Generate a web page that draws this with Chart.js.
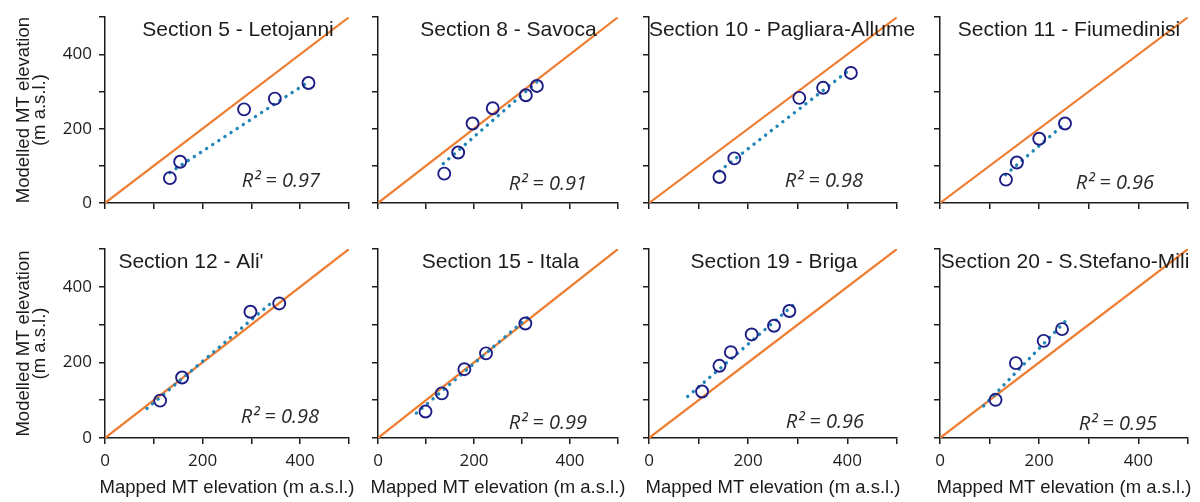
<!DOCTYPE html>
<html>
<head>
<meta charset="utf-8">
<script src="https://cdn.jsdelivr.net/npm/chart.js@4.4.1/dist/chart.umd.min.js"></script>
<style>
  html, body { margin: 0; padding: 0; background: #fff; }
  #wrap { position: relative; width: 1200px; height: 502px; overflow: hidden; }
  #wrap canvas { position: absolute; left: 0; top: 0; }
</style>
</head>
<body>
<div id="wrap"></div>
<script>
// ---- data ---------------------------------------------------------------
const sectionNames = [
  'Section 5 - Letojanni', 'Section 8 - Savoca', 'Section 10 - Pagliara-Allume', 'Section 11 - Fiumedinisi',
  "Section 12 - Ali'", 'Section 15 - Itala', 'Section 19 - Briga', 'Section 20 - S.Stefano-Mili'
];
const rSquared = ['0.97', '0.91', '0.98', '0.96', '0.98', '0.99', '0.96', '0.95'];

// mapped (x) and modelled (y) MT elevations, m a.s.l.
const mapped5  = [133, 154, 285, 348, 417];
const modelled5 = [67, 111, 252, 281, 323];
const mapped8  = [138, 167, 197, 239, 308, 331];
const modelled8 = [79, 136, 214, 255, 290, 315];
const mapped10 = [142, 172, 303, 351, 407];
const modelled10 = [70, 120, 283, 310, 350];
const mapped11 = [133, 155, 200, 252];
const modelled11 = [63, 109, 173, 214];
const mapped12 = [113, 158, 298, 357];
const modelled12 = [99, 160, 334, 356];
const mapped15 = [99, 133, 180, 225, 307];
const modelled15 = [70, 118, 182, 224, 303];
const mapped19 = [107, 142, 165, 207, 252, 283];
const modelled19 = [123, 191, 227, 274, 297, 336];
const mapped20 = [112, 153, 209, 246];
const modelled20 = [101, 198, 257, 288];

// linear trend end points: [x start, y start, x end, y end]
const trend5  = [133, 82, 417, 326];
const trend8  = [136, 106, 331, 326];
const trend10 = [142, 86, 407, 361];
const trend11 = [132, 76, 252, 214];
const trend12 = [86, 78, 343, 360];
const trend15 = [80, 66, 322, 330];
const trend19 = [78, 110, 300, 362];
const trend20 = [88, 85, 255, 312];

// 1:1 reference line and axis ticks
const oneToOne = [0, 500];
const tickValues = [0, 100, 200, 300, 400, 500];
const labelledTicks = [0, 200, 400];

const xTitleText = 'Mapped MT elevation (m a.s.l.)';
const yTitleLines = ['Modelled MT elevation', '(m a.s.l.)'];

const panelMapped = [mapped5, mapped8, mapped10, mapped11, mapped12, mapped15, mapped19, mapped20];
const panelModelled = [modelled5, modelled8, modelled10, modelled11, modelled12, modelled15, modelled19, modelled20];
const panelTrend = [trend5, trend8, trend10, trend11, trend12, trend15, trend19, trend20];

// ---- layout (page pixels) -----------------------------------------------
const PAGE_W = 1200, PAGE_H = 502;
const colLeft = [105, 378, 649, 940];
const colWidth = [244, 240, 248, 248];
const rowTop = [14, 249];
const rowHeight = 189;
const Y_AXIS_BOX = 60;   // room kept for y tick labels
const X_AXIS_BOX = 40;   // room kept for x tick labels
const titleCenter = [133, 130.5, 133, 129, 86, 122.5, 125, 125];
const r2Right = [215, 209, 214, 214, 214, 209, 215, 217];
const r2Lift = [16, 13, 16, 14, 15, 9, 10, 8];

const INK = '#1c1c1c';
const ORANGE = '#ED7D31';
const NAVY = '#1d1d86';
const TREND = '#2287b8';

// panel titles, R² labels and axis titles
const panelText = {
  id: 'panelText',
  afterDraw(chart, args, o) {
    const { ctx, chartArea: a } = chart;
    ctx.save();
    ctx.fillStyle = INK;
    ctx.textBaseline = 'alphabetic';

    ctx.font = '21px "Liberation Sans", Arial, sans-serif';
    ctx.textAlign = 'center';
    ctx.fillText(o.title, a.left + o.titleX, a.top + 18.5);

    ctx.font = 'italic 20px "Open Sans", sans-serif';
    ctx.textAlign = 'right';
    ctx.fillStyle = '#2a2a2a';
    ctx.fillText('R\u00B2 = ' + o.r2, a.left + o.r2X, a.bottom - o.r2Lift);
    ctx.fillStyle = INK;

    ctx.font = '18.5px "Liberation Sans", Arial, sans-serif';
    ctx.textAlign = 'center';
    if (o.xTitle) {
      ctx.fillText(o.xTitle, (a.left + a.right) / 2, a.bottom + 55);
    }
    if (o.yTitle) {
      const cy = (a.top + a.bottom) / 2;
      const baseX = [29, 45];
      o.yTitle.forEach((line, i) => {
        ctx.save();
        ctx.translate(baseX[i], cy);
        ctx.rotate(-Math.PI / 2);
        ctx.fillText(line, 0, 0);
        ctx.restore();
      });
    }
    ctx.restore();
  }
};

function axis(showLabels) {
  return {
    type: 'linear',
    min: tickValues[0],
    max: tickValues[tickValues.length - 1],
    afterFit(scale) {
      if (scale.isHorizontal()) scale.height = X_AXIS_BOX; else scale.width = Y_AXIS_BOX;
    },
    afterBuildTicks(scale) {
      scale.ticks = tickValues.map(v => ({ value: v }));
    },
    ticks: {
      autoSkip: false,
      maxRotation: 0,
      padding: 7,
      color: INK,
      font: { family: '"Open Sans", sans-serif', size: 17 },
      callback: v => (showLabels && labelledTicks.includes(v)) ? String(v) : ''
    },
    grid: {
      display: true,
      drawOnChartArea: false,
      drawTicks: true,
      tickLength: 6,
      color: INK,
      lineWidth: 1.5
    },
    border: { display: true, color: INK, width: 1.5 }
  };
}

const wrap = document.getElementById('wrap');

sectionNames.forEach((name, i) => {
  const row = Math.floor(i / 4), col = i % 4;
  const left = colLeft[col], top = rowTop[row];
  const right = PAGE_W - (left + colWidth[col]);
  const bottom = PAGE_H - (top + rowHeight);

  const canvas = document.createElement('canvas');
  canvas.width = PAGE_W;
  canvas.height = PAGE_H;
  canvas.style.width = PAGE_W + 'px';
  canvas.style.height = PAGE_H + 'px';
  wrap.appendChild(canvas);

  const xs = panelMapped[i], ys = panelModelled[i], t = panelTrend[i];

  new Chart(canvas, {
    type: 'scatter',
    data: {
      datasets: [
        {
          label: 'Sections',
          data: xs.map((x, k) => ({ x, y: ys[k] })),
          pointStyle: 'circle',
          pointRadius: 6,
          pointBorderWidth: 1.9,
          pointBorderColor: NAVY,
          pointBackgroundColor: 'rgba(0,0,0,0)',
          showLine: false,
          order: 0
        },
        {
          label: 'Linear trend',
          data: [{ x: t[0], y: t[1] }, { x: t[2], y: t[3] }],
          showLine: true,
          pointRadius: 0,
          borderColor: TREND,
          borderWidth: 3.4,
          borderDash: [0.1, 7.2],
          borderCapStyle: 'round',
          order: 1
        },
        {
          label: '1:1',
          data: [{ x: oneToOne[0], y: oneToOne[0] }, { x: oneToOne[1], y: oneToOne[1] }],
          showLine: true,
          pointRadius: 0,
          borderColor: ORANGE,
          borderWidth: 2.2,
          order: 2
        }
      ]
    },
    options: {
      responsive: false,
      animation: false,
      devicePixelRatio: 1,
      layout: {
        padding: {
          left: left - Y_AXIS_BOX,
          top,
          right,
          bottom: bottom - X_AXIS_BOX
        }
      },
      scales: {
        x: axis(row === 1),
        y: axis(col === 0)
      },
      plugins: {
        legend: { display: false },
        tooltip: { enabled: false },
        panelText: {
          title: name,
          titleX: titleCenter[i],
          r2: rSquared[i],
          r2X: r2Right[i],
          r2Lift: r2Lift[i],
          xTitle: row === 1 ? xTitleText : null,
          yTitle: col === 0 ? yTitleLines : null
        }
      }
    },
    plugins: [panelText]
  });
});
</script>
</body>
</html>
